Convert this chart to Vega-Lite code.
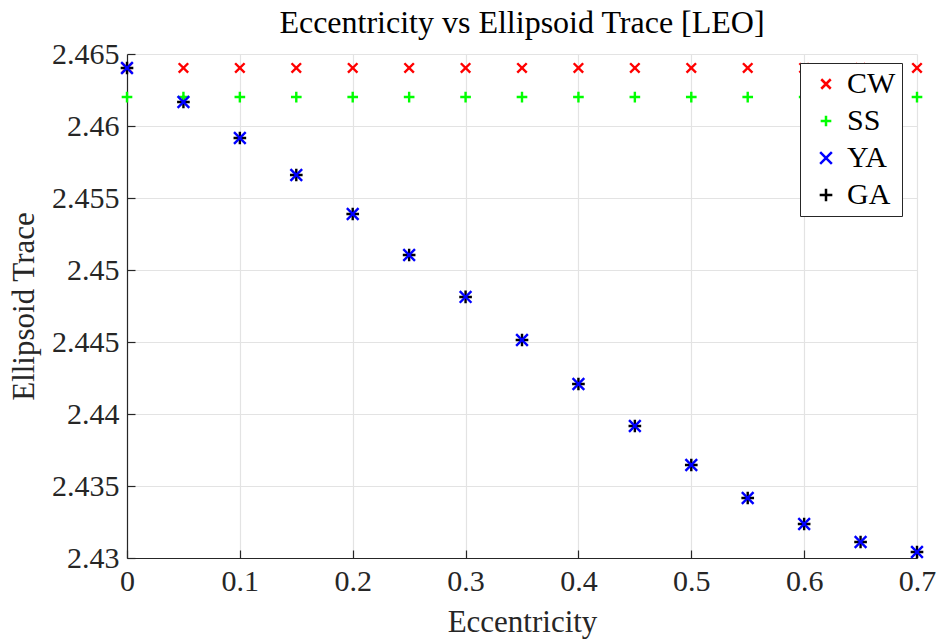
{
  "$schema": "https://vega.github.io/schema/vega-lite/v6.json",
  "width": 790,
  "height": 504,
  "autosize": "none",
  "padding": {"left": 127, "top": 54, "right": 22, "bottom": 84},
  "background": "white",
  "title": {"text": "Eccentricity vs Ellipsoid Trace [LEO]", "font": "Liberation Serif", "fontSize": 32, "fontWeight": "normal", "color": "#000000", "offset": -1, "anchor": "middle"},
  "config": {
    "view": {"stroke": null},
    "axis": {"labelFont": "Liberation Serif", "titleFont": "Liberation Serif", "labelFontSize": 30, "titleFontSize": 31, "titleFontWeight": "normal", "labelColor": "#262626", "titleColor": "#262626", "domainColor": "#262626", "tickColor": "#262626", "gridColor": "#e3e3e3", "gridWidth": 1.2, "domainWidth": 1.2, "tickSize": -8, "tickWidth": 1.2, "labelFlush": false},
    "legend": {"orient": "none", "legendX": 673, "legendY": 9, "fillColor": "white", "strokeColor": "#262626", "padding": 6, "columnPadding": 0, "labelFont": "Liberation Serif", "labelFontSize": 30, "labelColor": "#000000", "symbolStrokeWidth": 2.5, "symbolSize": 100, "rowPadding": 7, "labelOffset": 6, "symbolOffset": 5}
  },
  "data": {"values": [
    {"e": 0.00, "s": "CW", "v": 2.46403}, {"e": 0.05, "s": "CW", "v": 2.46403}, {"e": 0.10, "s": "CW", "v": 2.46403}, {"e": 0.15, "s": "CW", "v": 2.46403}, {"e": 0.20, "s": "CW", "v": 2.46403}, {"e": 0.25, "s": "CW", "v": 2.46403}, {"e": 0.30, "s": "CW", "v": 2.46403}, {"e": 0.35, "s": "CW", "v": 2.46403}, {"e": 0.40, "s": "CW", "v": 2.46403}, {"e": 0.45, "s": "CW", "v": 2.46403}, {"e": 0.50, "s": "CW", "v": 2.46403}, {"e": 0.55, "s": "CW", "v": 2.46403}, {"e": 0.60, "s": "CW", "v": 2.46403}, {"e": 0.65, "s": "CW", "v": 2.46403}, {"e": 0.70, "s": "CW", "v": 2.46403},
    {"e": 0.00, "s": "SS", "v": 2.46201}, {"e": 0.05, "s": "SS", "v": 2.46201}, {"e": 0.10, "s": "SS", "v": 2.46201}, {"e": 0.15, "s": "SS", "v": 2.46201}, {"e": 0.20, "s": "SS", "v": 2.46201}, {"e": 0.25, "s": "SS", "v": 2.46201}, {"e": 0.30, "s": "SS", "v": 2.46201}, {"e": 0.35, "s": "SS", "v": 2.46201}, {"e": 0.40, "s": "SS", "v": 2.46201}, {"e": 0.45, "s": "SS", "v": 2.46201}, {"e": 0.50, "s": "SS", "v": 2.46201}, {"e": 0.55, "s": "SS", "v": 2.46201}, {"e": 0.60, "s": "SS", "v": 2.46201}, {"e": 0.65, "s": "SS", "v": 2.46201}, {"e": 0.70, "s": "SS", "v": 2.46201},
    {"e": 0.00, "s": "YA", "v": 2.46403}, {"e": 0.05, "s": "YA", "v": 2.46167}, {"e": 0.10, "s": "YA", "v": 2.45917}, {"e": 0.15, "s": "YA", "v": 2.45660}, {"e": 0.20, "s": "YA", "v": 2.45389}, {"e": 0.25, "s": "YA", "v": 2.45104}, {"e": 0.30, "s": "YA", "v": 2.44813}, {"e": 0.35, "s": "YA", "v": 2.44514}, {"e": 0.40, "s": "YA", "v": 2.44208}, {"e": 0.45, "s": "YA", "v": 2.43917}, {"e": 0.50, "s": "YA", "v": 2.43646}, {"e": 0.55, "s": "YA", "v": 2.43417}, {"e": 0.60, "s": "YA", "v": 2.43236}, {"e": 0.65, "s": "YA", "v": 2.43111}, {"e": 0.70, "s": "YA", "v": 2.43042},
    {"e": 0.00, "s": "GA", "v": 2.46403}, {"e": 0.05, "s": "GA", "v": 2.46167}, {"e": 0.10, "s": "GA", "v": 2.45917}, {"e": 0.15, "s": "GA", "v": 2.45660}, {"e": 0.20, "s": "GA", "v": 2.45389}, {"e": 0.25, "s": "GA", "v": 2.45104}, {"e": 0.30, "s": "GA", "v": 2.44813}, {"e": 0.35, "s": "GA", "v": 2.44514}, {"e": 0.40, "s": "GA", "v": 2.44208}, {"e": 0.45, "s": "GA", "v": 2.43917}, {"e": 0.50, "s": "GA", "v": 2.43646}, {"e": 0.55, "s": "GA", "v": 2.43417}, {"e": 0.60, "s": "GA", "v": 2.43236}, {"e": 0.65, "s": "GA", "v": 2.43111}, {"e": 0.70, "s": "GA", "v": 2.43042}
  ]},
  "mark": {"type": "point", "filled": false, "strokeWidth": 2.4, "opacity": 1, "clip": false},
  "encoding": {
    "x": {"field": "e", "type": "quantitative", "title": "Eccentricity", "scale": {"domain": [0, 0.7], "nice": false, "zero": false}, "axis": {"values": [0, 0.1, 0.2, 0.3, 0.4, 0.5, 0.6, 0.7], "format": ".1~f", "labelPadding": 16, "titleY": 80, "titleBaseline": "bottom"}},
    "y": {"field": "v", "type": "quantitative", "title": "Ellipsoid Trace", "scale": {"domain": [2.43, 2.465], "nice": false, "zero": false}, "axis": {"values": [2.43, 2.435, 2.44, 2.445, 2.45, 2.455, 2.46, 2.465], "format": ".3~f", "labelPadding": 16, "titleX": -87}},
    "color": {"field": "s", "type": "nominal", "sort": ["CW", "SS", "YA", "GA"], "scale": {"domain": ["CW", "SS", "YA", "GA"], "range": ["#ff0000", "#00ff00", "#0000ff", "#000000"]}, "legend": {"title": null}},
    "shape": {"field": "s", "type": "nominal", "sort": ["CW", "SS", "YA", "GA"], "scale": {"domain": ["CW", "SS", "YA", "GA"], "range": ["M-1,-1L1,1M-1,1L1,-1", "M-1,0L1,0M0,-1L0,1", "M-1,-1L1,1M-1,1L1,-1", "M-1,0L1,0M0,-1L0,1"]}, "legend": {"title": null}},
    "size": {"field": "s", "type": "nominal", "scale": {"domain": ["CW", "SS", "YA", "GA"], "range": [90, 160, 90, 160]}, "legend": null},
    "order": {"field": "s", "sort": "ascending"}
  }
}
